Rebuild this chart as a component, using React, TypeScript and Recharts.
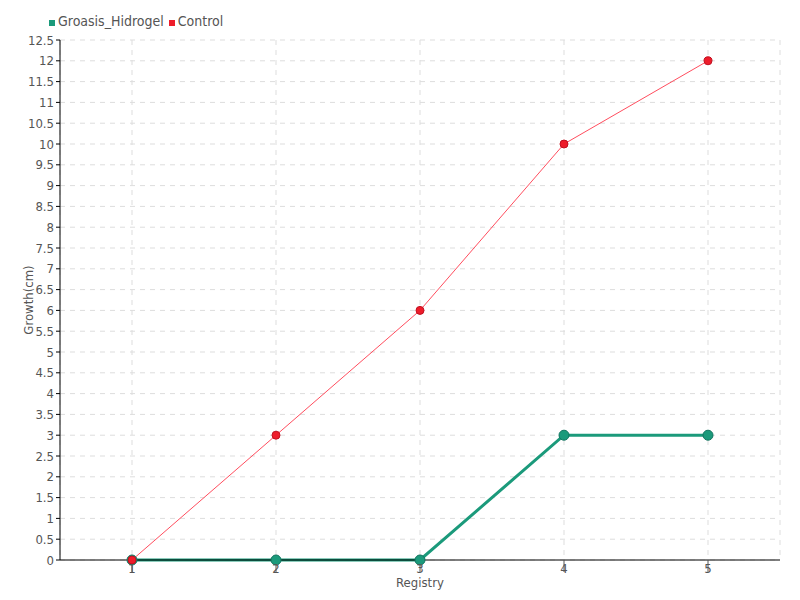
import React from 'react';
import { LineChart, Line, XAxis, YAxis, CartesianGrid, Label } from 'recharts';

const registries = ['1', '2', '3', '4', '5'];
const groasisHidrogel = [0, 0, 0, 3, 3];
const control = [0, 3, 6, 10, 12];
const yTicks = [0, 0.5, 1, 1.5, 2, 2.5, 3, 3.5, 4, 4.5, 5, 5.5, 6, 6.5, 7, 7.5, 8, 8.5, 9, 9.5, 10, 10.5, 11, 11.5, 12, 12.5];
const seriesNames = ['Groasis_Hidrogel', 'Control'];

const data = registries.map((r, i) => ({
  registry: r,
  Groasis_Hidrogel: groasisHidrogel[i],
  Control: control[i],
}));

const FONT = '"DejaVu Sans Condensed", "Liberation Sans Narrow", sans-serif';
const TEAL = '#1b9a7b';
const RED = '#ee1c2a';
const legendColors = [TEAL, RED];

export default function App() {
  return (
    <div style={{ position: 'absolute', left: 0, top: 0, width: 800, height: 600, background: '#fff', fontFamily: FONT }}>
      <div style={{ position: 'absolute', left: 49, top: 13, display: 'flex', alignItems: 'center', fontSize: 14, color: '#555', zIndex: 2 }}>
        {seriesNames.map((name, i) => (
          <span key={name} style={{ display: 'flex', alignItems: 'center', marginRight: 5 }}>
            <span style={{ display: 'inline-block', width: 6, height: 6, background: legendColors[i], marginRight: 3, marginTop: 3 }} />
            {name}
          </span>
        ))}
      </div>
      <LineChart
        width={800}
        height={600}
        data={data}
        margin={{ top: 40, right: 20, bottom: 0, left: 0 }}
        style={{ fontFamily: FONT }}
      >
        <CartesianGrid stroke="#dddddd" strokeDasharray="5 5" />
        <XAxis
          dataKey="registry"
          scale="band"
          axisLine={{ stroke: '#000' }}
          tickLine={{ stroke: '#555' }}
          tickSize={12}
          tickMargin={-8}
          height={40}
          tick={{ fill: '#555', fontSize: 13 }}
        >
          <Label value="Registry" position="insideBottom" offset={13} fill="#555" fontSize={13} />
        </XAxis>
        <YAxis
          width={60}
          domain={[0, 12.5]}
          ticks={yTicks}
          interval={0}
          axisLine={{ stroke: '#000' }}
          tickLine={{ stroke: '#000' }}
          tickSize={4}
          tickMargin={2}
          tick={{ fill: '#555', fontSize: 13 }}
        >
          <Label value="Growth(cm)" angle={-90} position="insideLeft" offset={28} fill="#555" fontSize={13} style={{ textAnchor: 'middle' }} />
        </YAxis>
        <Line
          type="linear"
          dataKey="Groasis_Hidrogel"
          stroke={TEAL}
          strokeWidth={3}
          dot={{ r: 5, fill: TEAL, stroke: '#127560', strokeWidth: 1 }}
          isAnimationActive={false}
        />
        <Line
          type="linear"
          dataKey="Control"
          stroke="#ff4d5e"
          strokeWidth={1}
          dot={{ r: 4, fill: RED, stroke: '#c01020', strokeWidth: 1 }}
          isAnimationActive={false}
        />
      </LineChart>
    </div>
  );
}
